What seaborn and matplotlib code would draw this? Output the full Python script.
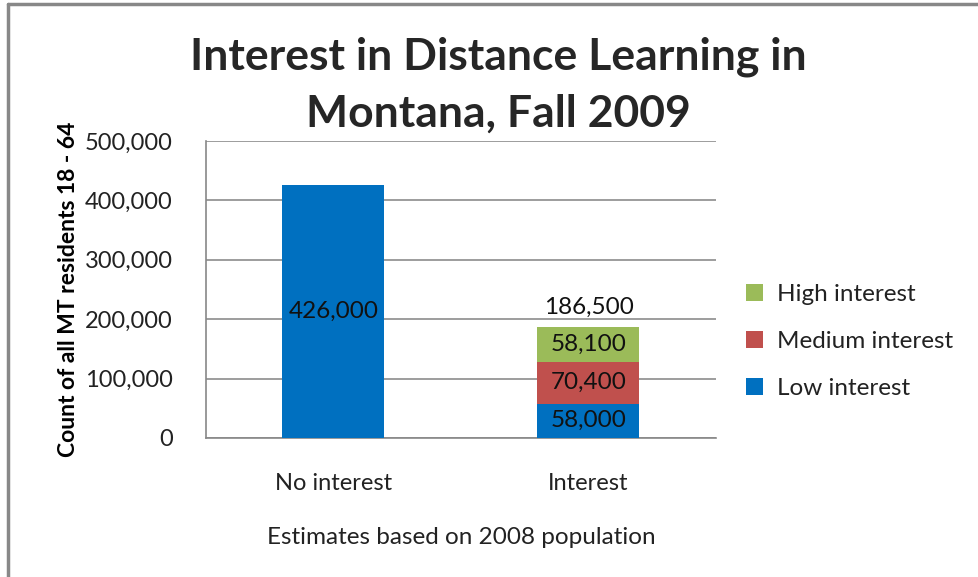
import matplotlib
matplotlib.use("Agg")
import matplotlib.pyplot as plt
from matplotlib.lines import Line2D
from matplotlib.patches import Patch
import seaborn as sns
import pandas as pd
import numpy as np

categories = ["No interest", "Interest"]
low_interest = [426000, 58000]
medium_interest = [0, 70400]
high_interest = [0, 58100]
series_names = ["High interest", "Medium interest", "Low interest"]
y_ticks = [0, 100000, 200000, 300000, 400000, 500000]
title = "Interest in Distance Learning in\nMontana, Fall 2009"
x_label = "Estimates based on 2008 population"
y_label = "Count of all MT residents 18 - 64"

c_low, c_med, c_high = "#0070C0", "#C0504D", "#9BBB59"

sns.set_theme(style="white")
plt.rcParams["font.family"] = ["Lato", "DejaVu Sans"]

fig = plt.figure(figsize=(9.79, 5.77), dpi=100)
ax = fig.add_axes([206/979, 1-438/577, (716-206)/979, (438-141)/577])

low = np.array(low_interest)
med_cum = low + np.array(medium_interest)
high_cum = med_cum + np.array(high_interest)

df = pd.DataFrame({"cat": categories, "low": low, "med": med_cum, "high": high_cum})
df_int = df.copy()
df_int.loc[df_int["cat"] == "No interest", ["med", "high"]] = 0

sns.barplot(data=df_int, x="cat", y="high", order=categories, color=c_high,
            width=0.4, saturation=1, ax=ax, zorder=3, linewidth=0)
sns.barplot(data=df_int, x="cat", y="med", order=categories, color=c_med,
            width=0.4, saturation=1, ax=ax, zorder=3, linewidth=0)
sns.barplot(data=df, x="cat", y="low", order=categories, color=c_low,
            width=0.4, saturation=1, ax=ax, zorder=3, linewidth=0)

fs = 17
ax.set_ylim(0, 500000)
ax.set_xlim(-0.5, 1.5)
ax.set_yticks(y_ticks)
ax.set_yticklabels([f"{v:,}" for v in y_ticks], fontsize=fs, color="#222222")
ax.set_xticks([0, 1])
ax.set_xticklabels(categories, fontsize=fs, color="#222222")
ax.set_xticks([-0.5, 0.5, 1.5], minor=True)
ax.tick_params(axis="x", which="major", length=0, pad=25)
ax.tick_params(axis="x", which="minor", length=7, direction="out", color="#888888", width=1)
ax.tick_params(axis="y", which="major", length=8, direction="inout", color="#888888", width=1, pad=20)
ax.yaxis.grid(True, color="#8c8c8c", linewidth=1.2, zorder=0)
ax.set_axisbelow(True)
for s in ["top", "right"]:
    ax.spines[s].set_visible(False)
for s in ["left", "bottom"]:
    ax.spines[s].set_color("#888888")
    ax.spines[s].set_linewidth(1.2)

ax.set_xlabel(x_label, fontsize=17.5, color="#222222", labelpad=24)
ax.set_ylabel(y_label, fontsize=16.5, fontweight="bold", color="black", labelpad=4)

# segment labels
lab_fs = 17.5
for i, cat in enumerate(categories):
    segs = [(0, low_interest[i]), (low_interest[i], medium_interest[i]),
            (low_interest[i] + medium_interest[i], high_interest[i])]
    for base, h in segs:
        if h > 0:
            ax.text(i, base + h / 2, f"{h:,}", ha="center", va="center",
                    fontsize=lab_fs, color="#111111", zorder=5)
total = low_interest[1] + medium_interest[1] + high_interest[1]
ax.text(1, total + 16000, f"{total:,}", ha="center", va="bottom", fontsize=lab_fs,
        color="#111111", zorder=5)

fig.suptitle(title, x=498/979, y=0.937, fontsize=32, fontweight="bold",
             linespacing=1.5)

handles = [Patch(facecolor=c, edgecolor="none") for c in [c_high, c_med, c_low]]
leg = fig.legend(handles, series_names, loc="upper left",
                 bbox_to_anchor=(724/979, 1-262/577), frameon=False,
                 fontsize=17.5, handlelength=0.7, handleheight=0.7,
                 labelspacing=1.08, handletextpad=0.6)
for t in leg.get_texts():
    t.set_color("#222222")

# outer frame (top and left edges visible)
fig.add_artist(Line2D([8/979, 1], [1-3.5/577, 1-3.5/577], transform=fig.transFigure,
                      color="#888888", linewidth=2.5))
fig.add_artist(Line2D([8/979, 8/979], [0, 1-3.5/577], transform=fig.transFigure,
                      color="#888888", linewidth=2.5))

fig.savefig("out.png", dpi=100)
